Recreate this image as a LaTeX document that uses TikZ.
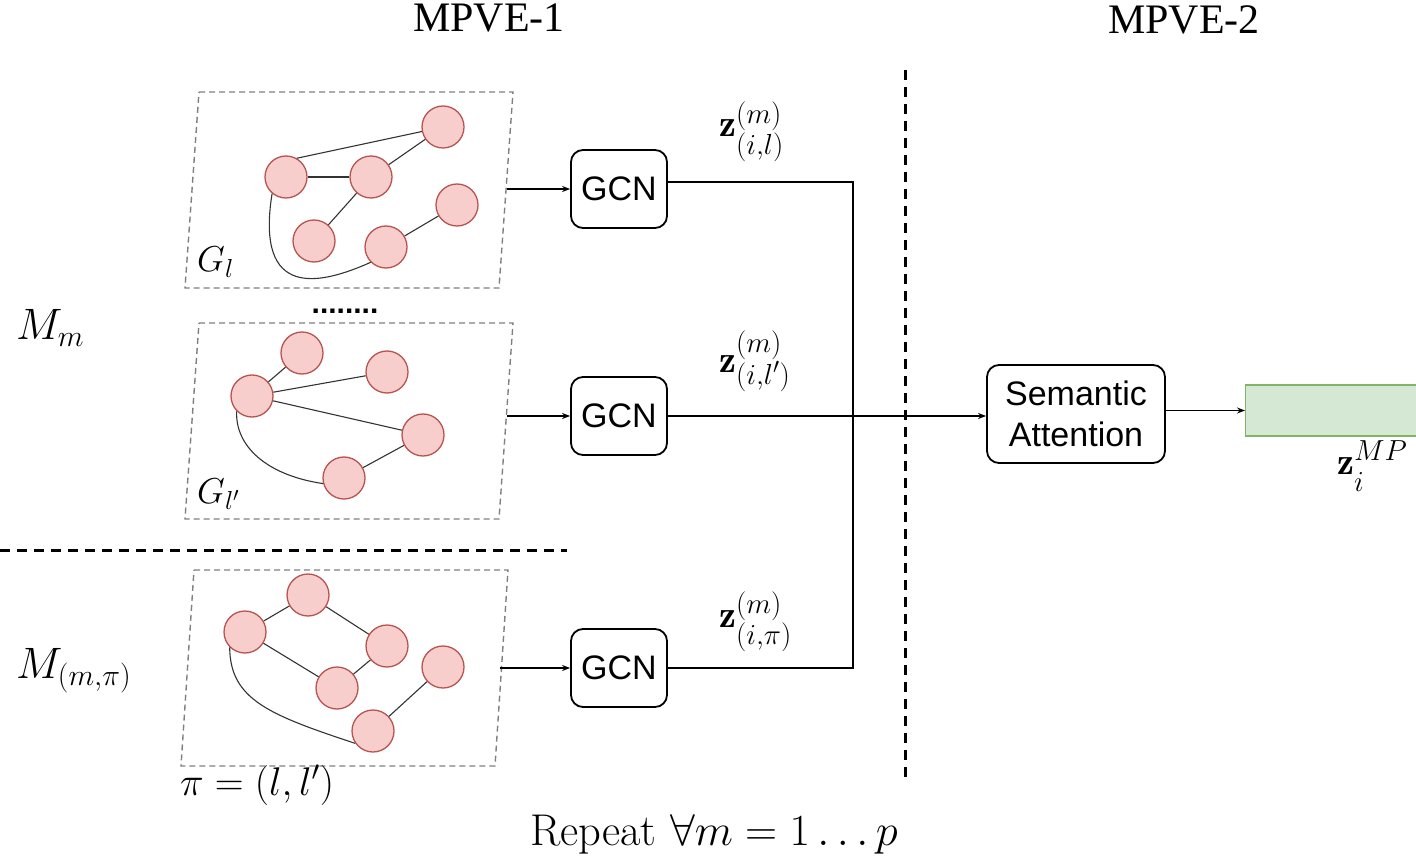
\RequirePackage{fix-cm}
\documentclass[tikz,border=0pt]{standalone}
\usepackage{fontspec}
\newfontfamily\arial{Liberation Sans}
\newfontfamily\tnr{Liberation Serif}
\usetikzlibrary{arrows.meta}
\DeclareMathSizes{38}{38}{29}{22}
\DeclareMathSizes{44}{44}{30}{22}
\DeclareMathSizes{36}{36}{26}{20}
\DeclareMathSizes{40}{40}{28}{20}
\DeclareMathSizes{44.5}{44.5}{31}{22}
\newcommand\lowsub[1]{\raisebox{-8pt}{$\scriptstyle #1$}}
\definecolor{nodefill}{HTML}{F8CECC}
\definecolor{nodedraw}{HTML}{B85450}
\definecolor{edgegray}{HTML}{333333}
\definecolor{framegray}{HTML}{808080}
\definecolor{gfill}{HTML}{D5E8D4}
\definecolor{gdraw}{HTML}{82B366}
\tikzset{
  gnode/.style={circle, fill=nodefill, draw=nodedraw, line width=1.3pt, minimum size=42pt, inner sep=0pt},
  gedge/.style={draw=edgegray, line width=1.1pt},
  gframe/.style={draw=framegray, dash pattern=on 6pt off 4pt, line width=1.4pt},
  proc/.style={draw, rounded corners=12pt, line width=1.8pt, font=\arial\fontsize{34}{41}\selectfont, align=center, inner sep=0pt},
  conn/.style={line width=1.5pt},
  arr/.style={conn, -{Stealth[length=8pt,width=6pt]}},
  sepline/.style={dash pattern=on 10pt off 7pt, line width=3pt},
  mlab/.style={inner sep=0pt},
  zlab/.style={mlab, anchor=base west, font=\fontsize{38}{44}\selectfont},
}
\begin{document}
\begin{tikzpicture}[x=1pt,y=1pt]
\useasboundingbox (0,0) rectangle (1416,-858);

% titles
\node[mlab, anchor=base, font=\tnr\fontsize{42}{46}\selectfont] (t1) at (489,-32) {MPVE-1};
\node[mlab, anchor=base, font=\tnr\fontsize{42}{46}\selectfont] (t2) at (1184,-34) {MPVE-2};

% separators
\draw[sepline] (905,-70) -- (905,-780);
\draw[sepline] (0,-550) -- (567,-550);

% frames
\draw[gframe] (199,-92) -- (513,-92) -- (499,-288) -- (185,-288) -- cycle;
\draw[gframe] (199,-323) -- (513,-323) -- (499,-519) -- (185,-519) -- cycle;
\draw[gframe] (194,-570) -- (508,-570) -- (495,-766) -- (181,-766) -- cycle;

% graph 1
\node[gnode] (a1) at (286,-177) {};
\node[gnode] (b1) at (371,-177) {};
\node[gnode] (c1) at (443,-127) {};
\node[gnode] (d1) at (314,-241) {};
\node[gnode] (e1) at (386,-247) {};
\node[gnode] (f1) at (457,-205) {};
\draw[gedge] (a1.60) -- (c1);
\draw[gedge] (a1) -- (b1);
\draw[gedge] (b1) -- (c1);
\draw[gedge] (b1) -- (d1);
\draw[gedge] (e1) -- (f1);
\draw[gedge] (a1.-130) .. controls (255,-300) and (320,-285) .. (e1.225);

% graph 2
\node[gnode] (a2) at (252,-396) {};
\node[gnode] (b2) at (302,-353) {};
\node[gnode] (c2) at (387,-372) {};
\node[gnode] (d2) at (423,-435) {};
\node[gnode] (e2) at (344,-478) {};
\draw[gedge] (a2) -- (b2);
\draw[gedge] (a2) -- (c2);
\draw[gedge] (a2) -- (d2);
\draw[gedge] (d2) -- (e2);
\draw[gedge] (a2.-135) .. controls (235,-445) and (265,-475) .. (e2.195);

% graph 3
\node[gnode] (a3) at (245,-632) {};
\node[gnode] (b3) at (308,-595) {};
\node[gnode] (c3) at (387,-646) {};
\node[gnode] (d3) at (337,-688) {};
\node[gnode] (e3) at (443,-667) {};
\node[gnode] (f3) at (373,-731) {};
\draw[gedge] (a3) -- (b3);
\draw[gedge] (b3) -- (c3);
\draw[gedge] (a3) -- (d3);
\draw[gedge] (d3) -- (c3);
\draw[gedge] (e3) -- (f3);
\draw[gedge] (a3.-135) .. controls (230,-700) and (270,-715) .. (f3.215);

% graph labels
\node[mlab, anchor=base west, font=\fontsize{36}{40}\selectfont] (gl1) at (197,-272) {$G_l$};
\node[mlab, anchor=base west, font=\fontsize{36}{40}\selectfont] (gl2) at (197,-503) {$G_{l'}$};
\node[mlab, anchor=base west, font=\fontsize{40}{44}\selectfont] (pil) at (180,-795) {$\pi=(l,l')$};
\node[mlab, anchor=base west, font=\fontsize{44}{48}\selectfont] (mm) at (16,-340) {$M_m$};
\node[mlab, anchor=base west, font=\fontsize{44}{48}\selectfont] (mmp) at (16,-678) {$M_{(m,\pi)}$};
\node[mlab, anchor=base, font=\arial\bfseries\fontsize{30}{32}\selectfont] (dots) at (345,-314) {........};

% GCN boxes
\node[proc, minimum width=96pt, minimum height=78pt] (gcn1) at (619,-189) {GCN};
\node[proc, minimum width=96pt, minimum height=78pt] (gcn2) at (619,-416) {GCN};
\node[proc, minimum width=96pt, minimum height=78pt] (gcn3) at (619,-668) {GCN};

\coordinate (o1) at (507,-189);
\coordinate (o2) at (507,-416);
\coordinate (o3) at (500,-668);
\draw[arr] (o1) -- (gcn1.west);
\draw[arr] (o2) -- (gcn2.west);
\draw[arr] (o3) -- (gcn3.west);

% semantic attention
\node[proc, minimum width=178pt, minimum height=98pt] (sa) at (1076,-414) {Semantic\\Attention};
\node[draw=gdraw, fill=gfill, line width=1.3pt, minimum width=180pt, minimum height=51pt, inner sep=0pt, anchor=west] (emb) at (1245,-410.5) {};

\coordinate (j1) at (853,-182);
\coordinate (j3) at (853,-668);
\draw[conn] (gcn1.east |- j1) -- (j1) -- (j3) -- (gcn3.east);
\draw[arr] (gcn2.east) -- (sa.west |- gcn2.east);
\draw[arr] (sa.east |- emb.west) -- (emb.west);

% z labels
\node[zlab] (z1) at (719,-137) {$\mathbf{z}^{(m)}_{\lowsub{(i,l)}}$};
\node[zlab] (z2) at (719,-373) {$\mathbf{z}^{(m)}_{\lowsub{(i,l')}}$};
\node[zlab] (z3) at (719,-627) {$\mathbf{z}^{(m)}_{\lowsub{(i,\pi)}}$};
\node[zlab] (zmp) at (1337,-474) {$\mathbf{z}^{MP}_{\lowsub{i}}$};

% repeat
\node[mlab, anchor=base, font=\fontsize{44.5}{48}\selectfont] (rep) at (714,-845) {Repeat $\forall m = 1\ldots p$};
\end{tikzpicture}
\end{document}
